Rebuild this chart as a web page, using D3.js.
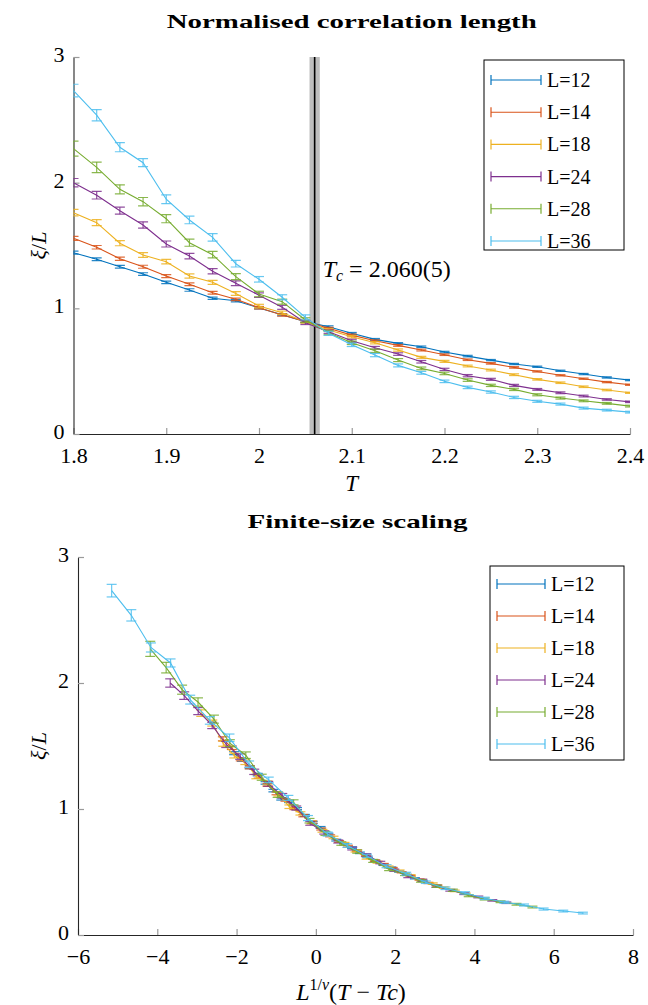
<!DOCTYPE html>
<html><head><meta charset="utf-8">
<script src="https://cdn.jsdelivr.net/npm/d3@7"></script>
<style>
body{margin:0;background:#fff}
text{font-family:"Liberation Serif","DejaVu Serif",serif;fill:#000}
</style>
</head><body>
<script>
// ---------- data ----------
const temperatures = [1.8,1.825,1.85,1.875,1.9,1.925,1.95,1.975,2.0,2.025,2.05,2.075,2.1,2.125,2.15,2.175,2.2,2.225,2.25,2.275,2.3,2.325,2.35,2.375,2.4];
const seriesLabels = ["L=12","L=14","L=18","L=24","L=28","L=36"];
const systemSizes = [12,14,18,24,28,36];
const seriesColors = ["#0072BD","#D95319","#EDB120","#7E2F8E","#77AC30","#4DBEEE"];

const xiL12 = [1.443,1.390,1.331,1.273,1.207,1.146,1.080,1.060,1.003,0.949,0.894,0.854,0.801,0.753,0.721,0.694,0.652,0.620,0.588,0.557,0.535,0.503,0.477,0.450,0.429];
const xiL14 = [1.557,1.486,1.395,1.331,1.257,1.191,1.124,1.072,1.005,0.947,0.896,0.841,0.787,0.742,0.705,0.668,0.631,0.591,0.562,0.530,0.498,0.467,0.440,0.413,0.392];
const xiL18 = [1.761,1.682,1.518,1.424,1.371,1.257,1.207,1.118,1.018,0.965,0.894,0.827,0.774,0.726,0.668,0.610,0.578,0.541,0.509,0.472,0.435,0.408,0.376,0.350,0.328];
const xiL24 = [2.000,1.900,1.777,1.663,1.512,1.416,1.295,1.200,1.105,1.008,0.886,0.814,0.742,0.686,0.636,0.575,0.514,0.464,0.435,0.387,0.355,0.328,0.302,0.275,0.256];
const xiL28 = [2.271,2.122,1.947,1.849,1.713,1.522,1.427,1.252,1.114,1.053,0.907,0.806,0.726,0.662,0.588,0.522,0.482,0.429,0.387,0.355,0.312,0.286,0.264,0.244,0.222];
const xiL36 = [2.733,2.537,2.282,2.159,1.868,1.703,1.565,1.355,1.231,1.088,0.928,0.801,0.710,0.628,0.546,0.487,0.419,0.371,0.334,0.291,0.260,0.238,0.206,0.190,0.174];

const errL12 = [0.012,0.011,0.011,0.010,0.010,0.010,0.009,0.009,0.008,0.008,0.008,0.007,0.007,0.007,0.006,0.006,0.006,0.006,0.005,0.005,0.005,0.005,0.005,0.005,0.005];
const errL14 = [0.016,0.014,0.013,0.012,0.012,0.011,0.011,0.010,0.010,0.009,0.009,0.008,0.008,0.007,0.007,0.007,0.006,0.006,0.006,0.006,0.005,0.005,0.005,0.005,0.005];
const errL18 = [0.026,0.024,0.020,0.019,0.018,0.017,0.016,0.015,0.014,0.013,0.012,0.011,0.010,0.009,0.009,0.008,0.008,0.007,0.007,0.007,0.006,0.006,0.006,0.006,0.005];
const errL24 = [0.033,0.030,0.028,0.025,0.024,0.022,0.021,0.019,0.018,0.016,0.015,0.013,0.012,0.011,0.010,0.010,0.009,0.009,0.008,0.008,0.007,0.007,0.007,0.006,0.006];
const errL28 = [0.060,0.042,0.036,0.033,0.032,0.028,0.026,0.024,0.022,0.020,0.018,0.016,0.014,0.013,0.012,0.011,0.010,0.010,0.009,0.009,0.008,0.008,0.007,0.007,0.007];
const errL36 = [0.050,0.045,0.036,0.032,0.035,0.030,0.030,0.026,0.022,0.020,0.020,0.016,0.014,0.013,0.012,0.011,0.010,0.010,0.009,0.009,0.008,0.008,0.008,0.007,0.007];

const seriesValues = [xiL12,xiL14,xiL18,xiL24,xiL28,xiL36];
const seriesErrors = [errL12,errL14,errL18,errL24,errL28,errL36];

const criticalT = 2.06, criticalTErr = 0.005, nu = 1.2;
const xTicksTop = [1.8,1.9,2.0,2.1,2.2,2.3,2.4];
const xTicksBottom = [-6,-4,-2,0,2,4,6,8];
const yTicks = [0,1,2,3];

// ---------- drawing ----------
const W = 648, H = 1005;
const svg = d3.select("body").append("svg").attr("width",W).attr("height",H);

const series = seriesLabels.map((lab,k)=>({
  label: lab, L: systemSizes[k], color: seriesColors[k],
  pts: temperatures.map((T,i)=>({T, v: seriesValues[k][i], e: seriesErrors[k][i]}))
}));

function drawPanel(opts){
  const {x, y, xTicks, xFmt, clipId, xAcc, legend, title, titleY, titleLen} = opts;
  const g = svg.append("g");
  const [x0,x1] = x.range(), [y0,y1] = y.range();
  g.append("clipPath").attr("id",clipId).append("rect")
    .attr("x",x0).attr("y",y1-2).attr("width",x1-x0).attr("height",y0-y1+2);

  if(opts.before) opts.before(g);

  // axes
  const ax = g.append("g").attr("transform",`translate(0,${y0})`)
    .call(d3.axisBottom(x).tickValues(xTicks).tickFormat(xFmt).tickSizeInner(-6).tickSizeOuter(0).tickPadding(13));
  const ay = g.append("g").attr("transform",`translate(${x0},0)`)
    .call(d3.axisLeft(y).tickValues(yTicks).tickFormat(d3.format("d")).tickSizeInner(-6).tickSizeOuter(0).tickPadding(9));
  [ax,ay].forEach(a=>{
    a.select(".domain").attr("stroke","#262626").attr("stroke-width",1.1);
    a.selectAll(".tick line").attr("stroke","#9a9a9a").attr("stroke-width",1.2);
    a.selectAll(".tick text").style("font-family","'Liberation Serif',serif").style("font-size","22px").attr("fill","#000");
  });
  ay.selectAll(".tick text").attr("dy","0.2em");

  // data
  const plot = g.append("g").attr("clip-path",`url(#${clipId})`);
  const line = d3.line().x(d=>x(xAcc(d))).y(d=>y(d.v));
  series.forEach(s=>{
    const sg = plot.append("g");
    const pts = s.pts.map(p=>Object.assign({L:s.L},p));
    sg.append("path").datum(pts)
      .attr("d",line).attr("fill","none").attr("stroke",s.color).attr("stroke-width",1.1);
    const eb = sg.selectAll("g.eb").data(pts).join("g").attr("class","eb")
      .attr("stroke",s.color).attr("stroke-width",1.2).attr("stroke-opacity",0.85);
    eb.append("line").attr("x1",d=>x(xAcc(d))).attr("x2",d=>x(xAcc(d)))
      .attr("y1",d=>y(d.v-d.e)).attr("y2",d=>y(d.v+d.e));
    eb.append("line").attr("x1",d=>x(xAcc(d))-5).attr("x2",d=>x(xAcc(d))+5)
      .attr("y1",d=>y(d.v-d.e)).attr("y2",d=>y(d.v-d.e));
    eb.append("line").attr("x1",d=>x(xAcc(d))-5).attr("x2",d=>x(xAcc(d))+5)
      .attr("y1",d=>y(d.v+d.e)).attr("y2",d=>y(d.v+d.e));
  });

  // legend
  const lg = g.append("g");
  lg.append("rect").attr("x",legend.x).attr("y",legend.y).attr("width",legend.w).attr("height",legend.h)
    .attr("fill","#fff").attr("stroke","#000").attr("stroke-width",1);
  series.forEach((s,k)=>{
    const yy = legend.y + legend.first + k*legend.step;
    const lx0 = legend.x+7, lx1 = legend.x+legend.lineW;
    lg.append("line").attr("x1",lx0).attr("x2",lx1).attr("y1",yy).attr("y2",yy).attr("stroke",s.color).attr("stroke-width",1.1);
    [lx0,lx1].forEach(xx=>lg.append("line").attr("x1",xx).attr("x2",xx).attr("y1",yy-5).attr("y2",yy+5).attr("stroke",s.color).attr("stroke-width",1.2));
    lg.append("text").attr("x",lx1+6).attr("y",yy+7).style("font-size","20px").text(s.label);
  });

  // title
  svg.append("text").attr("x",(x0+x1)/2+ (opts.titleDx||0)).attr("y",titleY).attr("text-anchor","middle")
    .style("font-size","19px").style("font-weight","bold")
    .attr("textLength",titleLen).attr("lengthAdjust","spacingAndGlyphs").text(title);

  // y label
  const yl = svg.append("text").attr("transform",`translate(${opts.yLabX},${(y0+y1)/2}) rotate(-90)`)
    .attr("text-anchor","middle").style("font-size","22px");
  yl.append("tspan").style("font-style","italic").text("ξ");
  yl.append("tspan").text("/");
  yl.append("tspan").style("font-style","italic").text("L");
  return g;
}

// ---- top panel ----
const xTop = d3.scaleLinear().domain([1.8,2.4]).range([73.5,630]);
const yTop = d3.scaleLinear().domain([0,3]).range([434,57]);
drawPanel({
  x: xTop, y: yTop, xTicks: xTicksTop, xFmt: d=>String(+d.toFixed(1)), clipId:"clipTop",
  xAcc: d=>d.T,
  legend:{x:484,y:60,w:140,h:190,first:20,step:32.2,lineW:57},
  title:"Normalised correlation length", titleY:28, titleLen:370, titleDx:0,
  yLabX:46,
  before: g=>{
    g.append("rect").attr("x",xTop(criticalT-criticalTErr)-0.5).attr("width",xTop(criticalT+criticalTErr)-xTop(criticalT-criticalTErr)+1)
      .attr("y",yTop(3)).attr("height",yTop(0)-yTop(3)).attr("fill","#bdbdbd");
    g.append("line").attr("x1",xTop(criticalT)).attr("x2",xTop(criticalT)).attr("y1",yTop(3)).attr("y2",yTop(0))
      .attr("stroke","#000").attr("stroke-width",1.6);
  }
});
// Tc annotation
const ann = svg.append("text").attr("x",xTop(criticalT)+8).attr("y",yTop(1.25)).style("font-size","24px");
ann.append("tspan").style("font-style","italic").text("T");
ann.append("tspan").style("font-style","italic").style("font-size","16px").attr("dy",4).text("c");
ann.append("tspan").attr("dy",-4).text(" = 2.060(5)");
// x label top
svg.append("text").attr("x",(73.5+630)/2).attr("y",491).attr("text-anchor","middle")
  .style("font-size","23px").style("font-style","italic").text("T");

// ---- bottom panel ----
const xBot = d3.scaleLinear().domain([-6,8]).range([78,633]);
const yBot = d3.scaleLinear().domain([0,3]).range([935,557]);
drawPanel({
  x: xBot, y: yBot, xTicks: xTicksBottom, xFmt: d3.format("d"), clipId:"clipBot",
  xAcc: d=>Math.pow(d.L,1/nu)*(d.T-criticalT),
  legend:{x:490,y:566,w:134,h:194,first:18,step:32,lineW:55},
  title:"Finite-size scaling", titleY:528, titleLen:220, titleDx:2,
  yLabX:46
});
const xl = svg.append("text").attr("x",351).attr("y",1000).attr("text-anchor","middle").style("font-size","24px");
xl.append("tspan").style("font-style","italic").text("L");
xl.append("tspan").attr("dy",-10).style("font-size","16px").text("1/");
xl.append("tspan").style("font-size","16px").style("font-style","italic").text("ν");
xl.append("tspan").attr("dy",10).text("(");
xl.append("tspan").style("font-style","italic").text("T");
xl.append("tspan").text(" − ");
xl.append("tspan").style("font-style","italic").text("Tc");
xl.append("tspan").text(")");
</script>
</body></html>
